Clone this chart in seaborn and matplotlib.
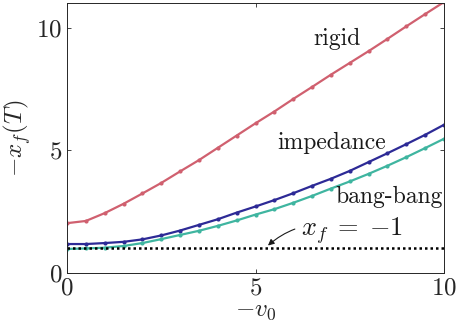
import numpy as np
import pandas as pd
import matplotlib
matplotlib.use("Agg")
import matplotlib.pyplot as plt
import seaborn as sns

v0 = [0, 0.5, 1, 1.5, 2, 2.5, 3, 3.5, 4, 4.5, 5, 5.5, 6, 6.5, 7, 7.5, 8, 8.5, 9, 9.5, 10]
rigid = [2.03, 2.12, 2.44, 2.82, 3.24, 3.67, 4.14, 4.6, 5.1, 5.6, 6.1, 6.58, 7.09, 7.58, 8.08,
         8.56, 9.04, 9.54, 10.05, 10.55, 11.04]
impedance = [1.18, 1.18, 1.22, 1.27, 1.37, 1.53, 1.73, 1.96, 2.19, 2.46, 2.71, 2.97, 3.25, 3.55,
             3.84, 4.16, 4.52, 4.88, 5.25, 5.63, 6.04]
bangbang = [0.98, 1.0, 1.03, 1.1, 1.22, 1.38, 1.55, 1.72, 1.92, 2.14, 2.38, 2.6, 2.86, 3.14,
            3.44, 3.73, 4.04, 4.37, 4.72, 5.09, 5.47]
series_names = ["rigid", "impedance", "bang-bang"]
colors = ["#D0606F", "#2D2A96", "#3FB5A0"]
goal = 1.0

sns.set_theme(style="ticks")
plt.rcParams["font.family"] = ["serif"]
plt.rcParams["font.serif"] = ["cmr10", "DejaVu Serif"]
plt.rcParams["mathtext.fontset"] = "cm"
plt.rcParams["axes.formatter.use_mathtext"] = True

df = pd.DataFrame({
    "v0": v0 * 3,
    "val": rigid + impedance + bangbang,
    "method": [series_names[0]] * len(v0) + [series_names[1]] * len(v0) + [series_names[2]] * len(v0),
})

fig = plt.figure(figsize=(4.57, 3.36), dpi=100)
ax = fig.add_axes([0.1466, 0.1875, 0.825, 0.8035])

sns.lineplot(data=df, x="v0", y="val", hue="method", palette=colors, hue_order=series_names,
             marker="o", markersize=3, markeredgewidth=0, linewidth=1.6, legend=False, ax=ax)
ax.plot([0, 10], [goal, goal], color="black", linestyle=(0, (1, 1.2)), linewidth=1.8)

ax.set_xlim(0, 10)
ax.set_ylim(0, 11)
ax.set_xticks([0, 5, 10])
ax.set_yticks([0, 5, 10])
ax.tick_params(direction="in", length=3, width=0.6, colors="#262626", labelsize=18,
               top=True, right=True, labelcolor="#262626")
for s in ax.spines.values():
    s.set_visible(True)
    s.set_linewidth(0.7)
    s.set_color("#262626")
ax.set_xlabel(r"$-v_0$", fontsize=18, labelpad=0, color="#262626")
ax.set_ylabel(r"$-x_f(T)$", fontsize=18, labelpad=2, color="#262626")

ax.text(7.15, 9.54, "rigid", fontsize=17, ha="center", va="center", color="#1a1a1a")
ax.text(7.02, 5.3, "impedance", fontsize=17, ha="center", va="center", color="#1a1a1a")
ax.text(8.55, 3.09, "bang-bang", fontsize=17, ha="center", va="center", color="#1a1a1a")
ax.annotate(r"$x_f\;=\;{-1}$", xy=(5.33, 1.12), xytext=(6.2, 1.72), fontsize=19,
            ha="left", va="center", color="#1a1a1a",
            arrowprops=dict(arrowstyle="-|>", color="#1a1a1a", lw=0.8,
                            connectionstyle="arc3,rad=0.3", shrinkA=2, shrinkB=0,
                            mutation_scale=9))

fig.savefig("out.png", dpi=100)
